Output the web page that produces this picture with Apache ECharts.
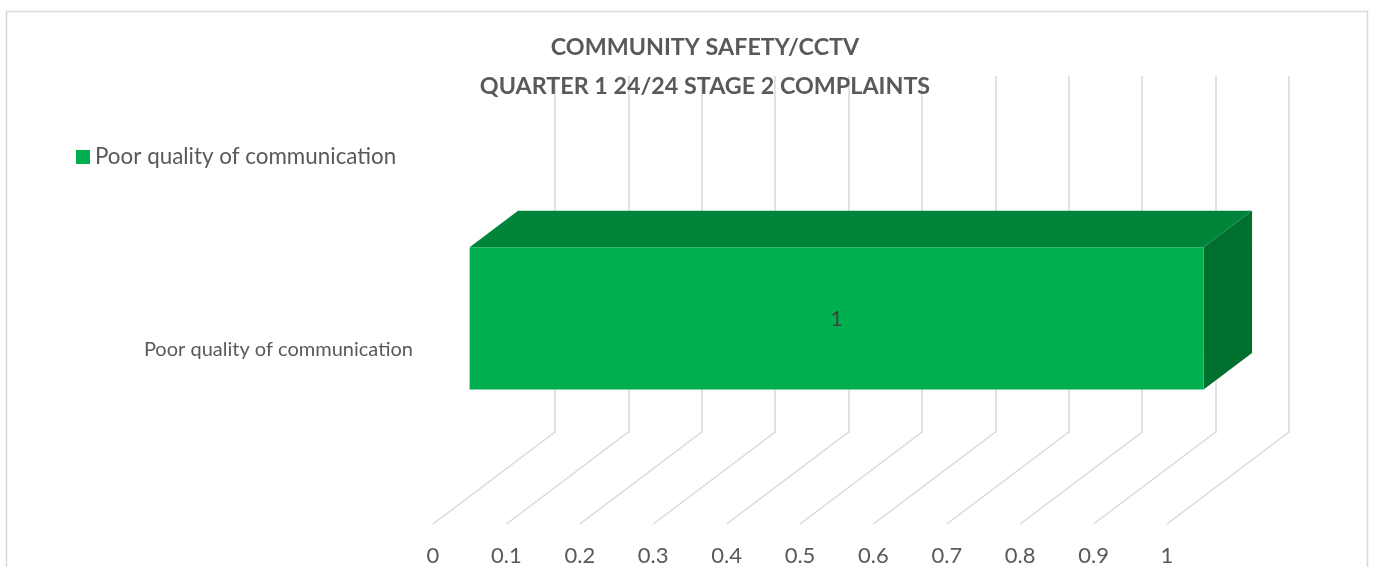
<!DOCTYPE html>
<html>
<head>
<meta charset="utf-8">
<script src="https://cdn.jsdelivr.net/npm/echarts@6/dist/echarts.min.js"></script>
<style>
  html, body { margin: 0; padding: 0; background: #ffffff; }
  #chart { width: 1373px; height: 567px; }
</style>
</head>
<body>
<div id="chart"></div>
<script>
// ---- data ----
const chartTitle = ['COMMUNITY SAFETY/CCTV', 'QUARTER 1 24/24 STAGE 2 COMPLAINTS'];
const categories = ['Poor quality of communication'];
const seriesName = 'Poor quality of communication';
const complaintCounts = [1];
const xTicks = [0, 0.1, 0.2, 0.3, 0.4, 0.5, 0.6, 0.7, 0.8, 0.9, 1];

// ---- 3D look ----
const DEPTH = [122, -92];           // offset from front plane to back wall, px
const BAR_FRONT = 0.3;              // bar front face, share of depth
const BAR_BACK = 0.697;             // bar back face, share of depth
const BAR_HALF = 0.2;               // half bar thickness, share of band
const FONT = 'Lato, "Open Sans", sans-serif';
const TEXT = '#595959';
const GRID_LINE = '#d9d9d9';
const COLORS = { front: '#00b050', top: '#00843a', side: '#00702f' };

const chart = echarts.init(document.getElementById('chart'), null, { renderer: 'canvas' });

function renderBar(params, api) {
  const v = api.value(0);
  const c = api.value(1);
  const p0 = api.coord([0, c]);
  const p1 = api.coord([v, c]);
  const half = api.size([0, 1])[1] * BAR_HALF;
  const fx = DEPTH[0] * BAR_FRONT, fy = DEPTH[1] * BAR_FRONT;
  const bx = DEPTH[0] * BAR_BACK, by = DEPTH[1] * BAR_BACK;
  const L = p0[0], R = p1[0], T = p0[1] - half, B = p0[1] + half;
  return {
    type: 'group',
    children: [
      {
        type: 'polygon',
        shape: { points: [[L + fx, T + fy], [R + fx, T + fy], [R + bx, T + by], [L + bx, T + by]] },
        style: { fill: COLORS.top }
      },
      {
        type: 'polygon',
        shape: { points: [[R + fx, T + fy], [R + bx, T + by], [R + bx, B + by], [R + fx, B + fy]] },
        style: { fill: COLORS.side }
      },
      {
        type: 'rect',
        shape: { x: L + fx, y: T + fy, width: R - L, height: B - T },
        style: { fill: COLORS.front }
      },
      {
        type: 'text',
        x: (L + R) / 2 + fx,
        y: (T + B) / 2 + fy + 1,
        style: {
          text: String(v),
          align: 'center',
          verticalAlign: 'middle',
          fill: '#404040',
          font: '21px ' + FONT
        }
      }
    ]
  };
}

function renderFloorLine(params, api) {
  const p = api.coord([api.value(0), 0]);
  const bottom = params.coordSys.y + params.coordSys.height;
  return {
    type: 'line',
    shape: { x1: p[0], y1: bottom, x2: p[0] + DEPTH[0], y2: bottom + DEPTH[1] },
    style: { stroke: GRID_LINE, lineWidth: 1.5 }
  };
}

const option = {
  animation: false,
  backgroundColor: '#ffffff',
  title: {
    text: chartTitle.join('\n'),
    left: 700,
    top: 23,
    textAlign: 'center',
    textStyle: {
      fontFamily: FONT,
      fontSize: 23.3,
      fontWeight: 'bold',
      color: TEXT,
      lineHeight: 39
    }
  },
  legend: {
    data: [seriesName],
    left: 71,
    top: 141,
    icon: 'rect',
    itemWidth: 14,
    itemHeight: 14,
    itemGap: 6,
    textStyle: { fontFamily: FONT, fontSize: 22.4, color: TEXT }
  },
  graphic: [
    {
      type: 'rect',
      shape: { x: 6.5, y: 11.5, width: 1361, height: 620 },
      style: { fill: null, stroke: GRID_LINE, lineWidth: 1.5 },
      silent: true,
      z: -10
    }
  ],
  grid: [
    // back wall
    { left: 555, top: 76, width: 734, height: 357 },
    // front plane
    { left: 433, top: 168, width: 734, height: 357 }
  ],
  xAxis: [
    {
      gridIndex: 0, type: 'value', min: 0, max: 1, interval: 0.1,
      axisLine: { show: false }, axisTick: { show: false }, axisLabel: { show: false },
      splitLine: { show: true, lineStyle: { color: GRID_LINE, width: 1.5 } }
    },
    {
      gridIndex: 1, type: 'value', min: 0, max: 1, interval: 0.1,
      axisLine: { show: false }, axisTick: { show: false }, splitLine: { show: false },
      axisLabel: { margin: 21, fontFamily: FONT, fontSize: 22, color: TEXT }
    }
  ],
  yAxis: [
    {
      gridIndex: 0, type: 'category', data: categories,
      axisLine: { show: false }, axisTick: { show: false }, axisLabel: { show: false },
      splitLine: { show: false }
    },
    {
      gridIndex: 1, type: 'category', data: categories,
      axisLine: { show: false }, axisTick: { show: false }, splitLine: { show: false },
      axisLabel: {
        margin: 20, fontFamily: FONT, fontSize: 20, color: TEXT,
        verticalAlign: 'top', lineHeight: 8
      }
    }
  ],
  series: [
    {
      name: 'floor',
      type: 'custom',
      xAxisIndex: 1,
      yAxisIndex: 1,
      silent: true,
      z: 1,
      renderItem: renderFloorLine,
      encode: { x: 0, y: 1 },
      data: xTicks.map(t => [t, 0])
    },
    {
      name: seriesName,
      type: 'custom',
      xAxisIndex: 1,
      yAxisIndex: 1,
      z: 3,
      itemStyle: { color: COLORS.front },
      renderItem: renderBar,
      encode: { x: 0, y: 1 },
      data: complaintCounts.map((v, i) => [v, i])
    }
  ]
};

chart.setOption(option);
</script>
</body>
</html>
